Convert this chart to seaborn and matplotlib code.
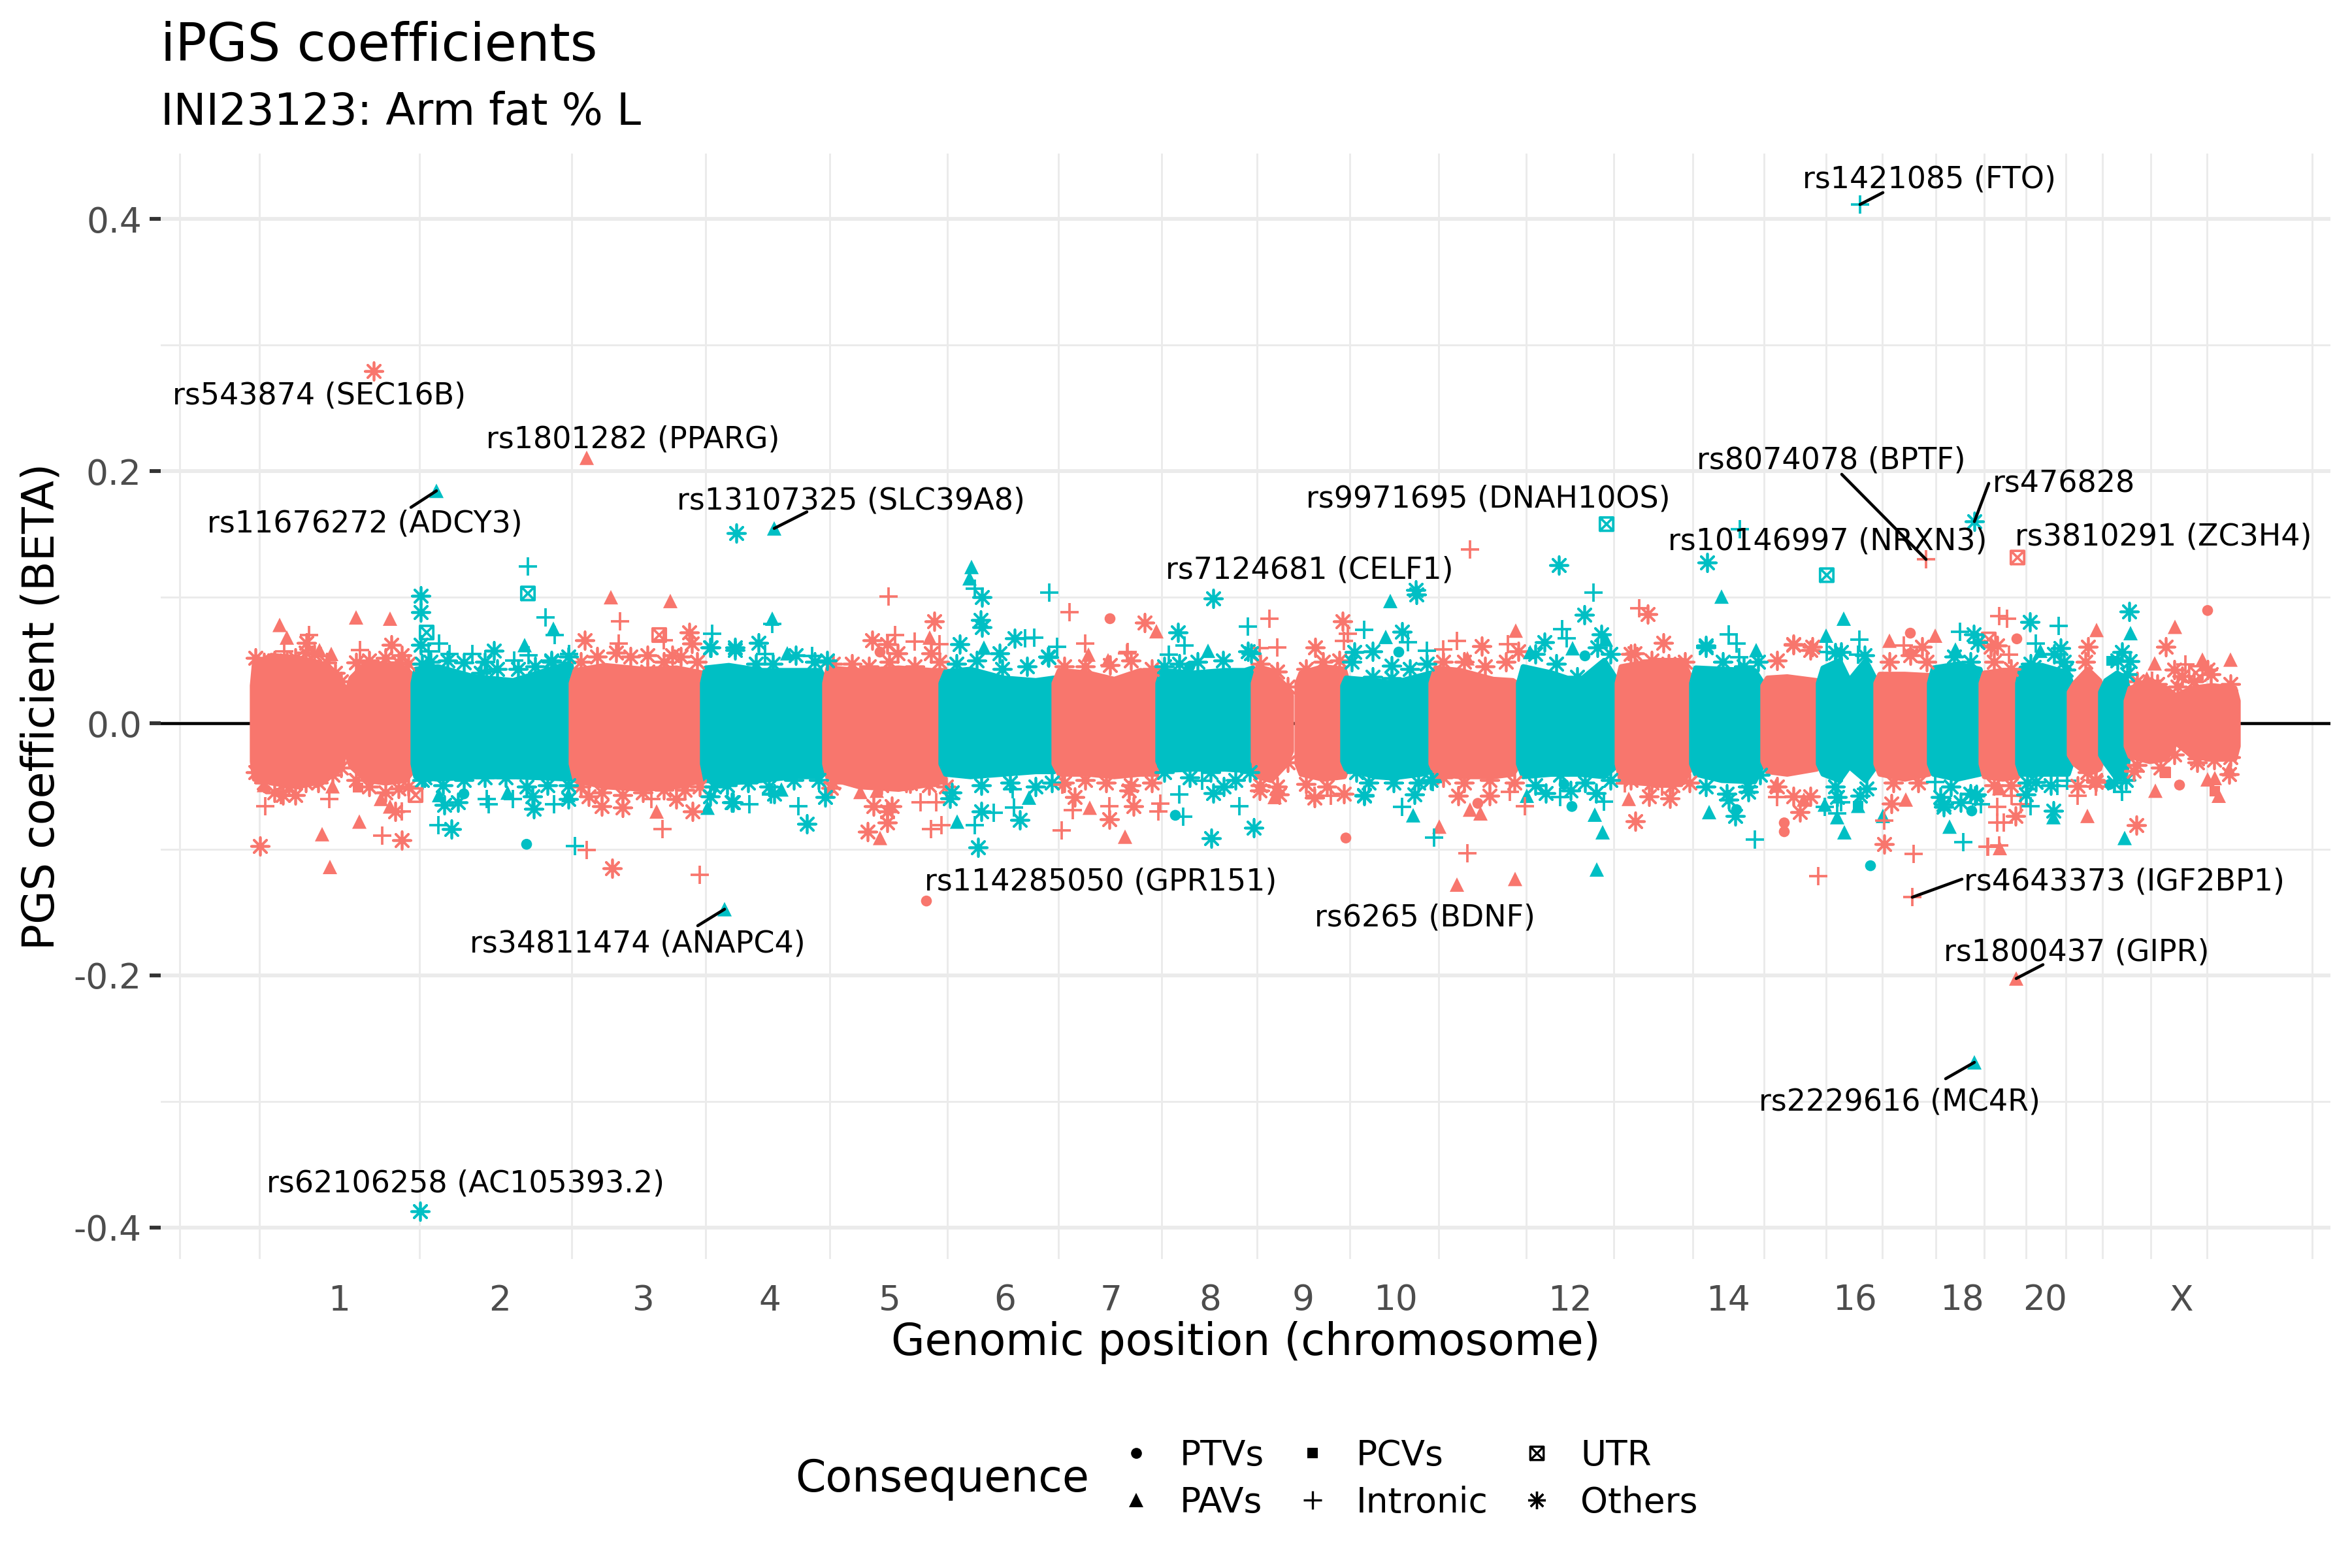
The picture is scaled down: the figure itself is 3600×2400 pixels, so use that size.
import matplotlib
matplotlib.use("Agg")
import matplotlib.pyplot as plt
import pandas as pd
import seaborn as sns
from matplotlib.lines import Line2D
from matplotlib.markers import MarkerStyle
from matplotlib.path import Path

# x is cumulative genomic position in Mb, y is the PGS coefficient
tick_pos = [134, 380, 600, 793, 977, 1153, 1316, 1467, 1610, 1751, 2018, 2260, 2454, 2618, 2745, 2954]
tick_names = ["1", "2", "3", "4", "5", "6", "7", "8", "9", "10", "12", "14", "16", "18", "20", "X"]
grid_pos = [-110, 12, 257, 490, 695, 885, 1065, 1235, 1393, 1539, 1681, 1817, 1951, 2085, 2206,
            2315, 2410, 2496, 2578, 2652, 2716, 2777, 2833, 2907, 2993, 3154]

# the dense mass of each chromosome arm, as envelope
seg_group = ["odd", "odd", "even", "odd", "even", "odd", "even", "odd", "even", "odd", "odd", "even", "odd",
             "even", "odd", "even", "odd", "even", "odd", "even", "odd", "even", "odd", "even", "odd"]
seg_x = [[1, 4, 30, 70, 105, 128, 138, 142], [146, 152, 175, 205, 235, 250],
         [247, 251, 285, 340, 400, 450, 488, 492], [489, 495, 540, 600, 650, 690, 694],
         [690, 695, 730, 780, 830, 870, 880], [877, 882, 930, 990, 1040, 1058, 1062],
         [1055, 1062, 1100, 1150, 1200, 1228, 1234], [1228, 1236, 1280, 1320, 1360, 1385, 1390],
         [1387, 1393, 1440, 1490, 1520, 1532, 1536], [1533, 1540, 1560, 1582, 1591],
         [1600, 1606, 1640, 1672, 1678], [1670, 1675, 1720, 1745, 1790, 1805, 1810],
         [1805, 1812, 1850, 1900, 1930, 1942], [1939, 1946, 1990, 2030, 2070, 2092],
         [2090, 2096, 2150, 2190, 2206], [2204, 2210, 2250, 2300, 2315], [2313, 2320, 2350, 2395, 2402],
         [2398, 2405, 2430, 2445, 2470, 2488], [2486, 2492, 2530, 2567, 2572], [2568, 2574, 2610, 2645, 2650],
         [2647, 2652, 2680, 2703, 2708], [2703, 2708, 2740, 2780, 2785], [2782, 2790, 2810, 2828, 2834],
         [2830, 2838, 2855, 2868, 2873], [2869, 2875, 2905, 2930, 2945, 2970, 3000, 3035, 3040]]
seg_hi = [[.03, .047, .054, .052, .048, .04, .034, .02], [.025, .036, .048, .047, .044, .036],
          [.032, .043, .045, .037, .034, .042, .048, .032], [.032, .042, .046, .043, .044, .04, .032],
          [.032, .044, .046, .042, .042, .042, .032], [.032, .044, .042, .044, .042, .042, .032],
          [.032, .041, .043, .036, .034, .036, .032], [.032, .042, .04, .035, .042, .04, .032],
          [.032, .042, .04, .042, .042, .044, .032], [.032, .045, .042, .03, .022],
          [.032, .04, .045, .043, .032], [.03, .036, .034, .032, .038, .04, .03],
          [.032, .044, .042, .035, .034, .03], [.032, .045, .04, .033, .05, .032],
          [.032, .045, .05, .05, .032], [.032, .044, .043, .042, .03], [.03, .036, .037, .034, .03],
          [.032, .044, .05, .034, .05, .032], [.032, .039, .039, .038, .03], [.032, .044, .047, .043, .032],
          [.032, .04, .042, .042, .032], [.032, .044, .046, .04, .032], [.025, .032, .043, .034, .025],
          [.025, .034, .04, .036, .025], [.018, .028, .032, .028, .022, .028, .03, .028, .018]]
seg_lo = [[-.03, -.044, -.047, -.05, -.046, -.04, -.034, -.02], [-.025, -.034, -.045, -.047, -.045, -.035],
          [-.032, -.042, -.044, -.042, -.042, -.043, -.044, -.032], [-.032, -.045, -.05, -.052, -.05, -.045, -.032],
          [-.032, -.045, -.047, -.045, -.042, -.042, -.032], [-.032, -.043, -.05, -.052, -.048, -.046, -.032],
          [-.032, -.04, -.042, -.04, -.038, -.038, -.032], [-.032, -.04, -.04, -.042, -.04, -.04, -.032],
          [-.03, -.037, -.036, -.036, -.037, -.037, -.03], [-.032, -.042, -.045, -.033, -.022],
          [-.032, -.04, -.044, -.042, -.032], [-.03, -.036, -.042, -.043, -.04, -.038, -.03],
          [-.032, -.04, -.042, -.042, -.04, -.03], [-.032, -.042, -.04, -.04, -.042, -.032],
          [-.032, -.046, -.048, -.047, -.032], [-.032, -.04, -.045, -.046, -.03], [-.03, -.038, -.04, -.036, -.03],
          [-.032, -.04, -.045, -.034, -.045, -.032], [-.032, -.04, -.044, -.04, -.03], [-.032, -.04, -.044, -.04, -.032],
          [-.032, -.042, -.044, -.042, -.032], [-.032, -.04, -.04, -.04, -.032], [-.025, -.032, -.04, -.036, -.025],
          [-.025, -.032, -.044, -.04, -.025], [-.018, -.026, -.03, -.028, -.015, -.026, -.028, -.028, -.018]]

# variants piling up along the outer edge of the mass
rim_odd = [(6, .052), (19, .048), (35, .05), (54, .049), (67, .052), (83, .056), (96, .055), (115, .048), (128, .04),
           (137, .033), (6, -.039), (19, -.047), (35, -.055), (48, -.057), (67, -.057), (83, -.047), (102, -.047),
           (124, -.041), (137, -.035), (160, .048), (180, .05), (205, .052), (225, .048), (240, .047), (160, -.045),
           (180, -.05), (205, -.055), (225, -.052), (240, -.05),
           (504, .049), (529, .053), (580, .053), (606, .041), (631, .049), (657, .053), (682, .049), (504, -.05),
           (536, -.055), (568, -.057), (599, -.055), (631, -.053), (663, -.053), (686, -.05),
           (890, .047), (919, .047), (945, .045), (976, .049), (1015, .045), (1053, .049), (890, -.047), (932, -.045),
           (964, -.049), (1002, -.047), (1037, -.049), (1063, -.05),
           (1244, .045), (1276, .045), (1314, .046), (1346, .05), (1378, .043), (1244, -.047), (1276, -.045),
           (1308, -.047), (1346, -.049), (1378, -.047),
           (1544, .047), (1570, .041), (1586, .029), (1544, -.049), (1570, -.05), (1586, -.031), (1614, .043),
           (1640, .049), (1665, .05), (1614, -.048), (1646, -.05), (1672, -.056),
           (1824, .049), (1856, .049), (1888, .045), (1920, .049), (1939, .057), (1824, -.043), (1856, -.047),
           (1895, -.045), (1933, -.047),
           (2111, .055), (2143, .05), (2169, .047), (2194, .049), (2111, -.045), (2143, -.047), (2175, -.049), (2201, -.047),
           (2335, .05), (2360, .062), (2386, .058), (2335, -.05), (2360, -.058), (2386, -.058),
           (2507, .049), (2539, .054), (2564, .049), (2513, -.047), (2551, -.047),
           (2667, .049), (2693, .043), (2667, -.049), (2693, -.049),
           (2807, .049), (2810, -.039), (2822, -.045),
           (2886, .033), (2917, .031), (2948, .029), (2973, .033), (2999, .039), (3029, .031), (2886, -.033),
           (2922, -.035), (2978, -.031), (3004, -.029), (3029, -.027)]
rim_even = [(261, .047), (274, .049), (300, .05), (325, .048), (351, .04), (376, .043), (408, .043), (434, .045),
            (459, .049), (485, .053), (261, -.045), (293, -.049), (325, -.045), (357, -.043), (389, -.043), (421, -.05),
            (453, -.049), (485, -.049),
            (702, .06), (740, .058), (772, .047), (798, .047), (833, .054), (862, .049), (881, .05), (708, -.05),
            (728, -.049), (760, -.047), (792, -.05), (830, -.045), (868, -.045),
            (1079, .047), (1110, .05), (1149, .043), (1187, .045), (1219, .053), (1072, -.055), (1117, -.049),
            (1161, -.047), (1200, -.05), (1225, -.047),
            (1397, .045), (1420, .047), (1448, .049), (1487, .05), (1525, .057), (1397, -.039), (1436, -.043),
            (1468, -.039), (1506, -.045), (1528, -.039),
            (1684, .049), (1716, .037), (1745, .036), (1773, .043), (1799, .047), (1691, -.039), (1710, -.047),
            (1748, -.047), (1786, -.047), (1805, -.045),
            (1965, .055), (1997, .047), (2029, .037), (2060, .06), (2080, .055), (1965, -.049), (2003, -.041),
            (2041, -.047), (2080, -.045),
            (2226, .06), (2252, .049), (2284, .045), (2306, .049), (2226, -.05), (2258, -.056), (2290, -.05), (2309, -.041),
            (2424, .056), (2469, .054), (2424, -.05), (2472, -.052),
            (2606, .053), (2631, .049), (2601, -.05), (2631, -.056),
            (2723, .047), (2759, .055), (2774, .049), (2718, -.047), (2754, -.049),
            (2856, .05), (2871, .039), (2851, -.047), (2869, -.045)]

# single variants standing clear of the mass, (position, beta)
ptv_odd = [(962, .0565), (1314, .083), (1675, -.091), (1033, -.141), (1877, -.0635), (2539, .0715), (2346, -.079),
           (2346, -.086), (2539, .0555), (2702, .067), (2994, .0895), (2951, -.049)]
ptv_even = [(421, -.096), (325, -.056), (1414, -.073), (1436, .045), (1756, .0565), (2041, .0535), (2021, -.066),
            (2273, -.0685), (2478, -.113), (2633, -.0695), (2009, -.0485), (2844, -.0485)]
pav_odd = [(43, .078), (54, .068), (160, .084), (212, .083), (104, .058), (122, .055), (165, .043), (550, .1),
           (641, .097), (620, -.07), (198, -.06), (212, -.066), (165, -.078), (108, -.088), (120, -.114),
           (124, -.05), (19, -.049), (513, .2106), (1038, .068), (1385, .073), (1281, .0545), (1311, .05),
           (1283, -.067), (1337, -.09), (962, -.091), (932, -.0545), (957, -.0535), (1566, -.0585), (1935, .0735),
           (1861, .0515), (2577, .0695), (2507, .0655), (2108, -.06), (1865, -.0685), (1881, -.0715), (1818, -.082),
           (1845, -.128), (1934, -.1235), (2376, -.0605), (2532, -.0605), (2333, -.0495), (2824, .074), (2944, .0765),
           (2913, .0475), (2986, .0505), (3029, .0505), (2901, .0355), (2810, -.0735), (2914, -.0535), (2994, -.0445),
           (3005, -.0435), (3011, -.0575), (3027, -.0365), (2676, -.099), (2675, -.0515), (2701, -.2025)]
pav_even = [(462, .075), (418, .062), (797, .083), (698, -.067), (287, -.057), (392, -.055), (485, -.057), (283, .1844),
            (800, .1546), (724, -.1475), (1102, .124), (1099, .115), (1121, .06), (1080, -.078), (1190, -.059),
            (1464, .0575), (820, .0555), (811, -.0525), (1743, .097), (1736, .0685), (2250, .1005), (2437, .083),
            (2410, .0695), (2303, .058), (2022, .0595), (2073, .0665), (1957, .0565), (1952, -.0575), (1778, -.073),
            (2056, -.0725), (2068, -.0865), (2059, -.116), (2231, -.0705), (2408, -.0645), (2438, -.0865),
            (2497, -.0735), (2599, -.082), (2427, -.0745), (2459, -.0655), (2876, .0715), (2738, .0575), (2608, .0585),
            (2867, -.091), (2758, -.0745), (2637, -.269)]
pcv_odd = [(163, -.051), (3005, -.054), (2930, -.0395)]
pcv_even = [(2459, -.0655), (2847, .0495)]
intronic_odd = [(88, .07), (50, .057), (166, .058), (21, -.066), (119, -.06), (200, -.089), (230, -.07), (564, .081),
                (562, .063), (629, -.084), (513, -.1005), (686, -.12), (612, -.06), (230, .047), (45, -.057), (631, .066),
                (975, .1005), (1252, .088), (985, .07), (1015, .065), (1053, .0625), (1276, .063), (1341, .0565),
                (1558, .083), (1570, .06), (1543, .0595), (1672, .0655), (1678, .071), (1024, -.0625), (1048, -.0625),
                (1040, -.084), (1056, -.081), (1240, -.085), (1257, -.069), (1313, -.066), (1388, -.07), (1391, -.0635),
                (1340, .0555), (1241, -.0485), (1627, -.0575), (1652, -.0575), (1865, .138), (2124, .091), (1845, .0655),
                (1824, .0585), (1923, .0625), (2563, .13), (1861, -.103), (1949, -.066), (2499, -.077), (2544, -.1037),
                (2398, -.1215), (2542, -.138), (2529, .0615), (2335, -.0585), (2159, -.0505), (2102, -.0475),
                (1926, -.0545), (2657, -.098), (2675, .085), (2687, .083), (2690, .0545), (2960, .0465), (2672, -.0665),
                (2672, -.079), (2682, -.079), (2658, -.098), (2675, -.097), (2708, -.0645), (2694, -.0575), (2795, -.0575),
                (2823, -.0505), (2909, .0335)]
intronic_even = [(423, .1245), (450, .084), (464, .07), (286, -.081), (360, -.06), (363, -.064), (400, -.06), (463, -.064),
                 (495, -.0975), (705, .071), (762, -.064), (797, .079), (786, .055), (287, .063), (271, .057), (338, .055),
                 (303, .055), (486, .055), (424, .054), (402, .05), (360, .041), (2462, .4116), (2278, .154), (1221, .1035),
                 (1107, .107), (1525, .0765), (1428, .0615), (1404, .0545), (1233, .0605), (1184, .0675), (1198, .068),
                 (858, .0535), (837, -.066), (1107, -.081), (1136, -.071), (1167, -.067), (1420, -.0565), (1426, -.074),
                 (1512, -.066), (1703, .074), (795, -.0565), (1165, -.0525), (1455, -.0455), (2054, .1035), (1770, .0645),
                 (1799, .0575), (2006, .0745), (2013, .0675), (2261, .0705), (2273, .0635), (2277, .0525), (2461, .0665),
                 (2459, .0545), (2411, .0565), (2615, .0725), (1761, -.0665), (1810, -.0905), (2070, -.062), (2301, -.092),
                 (2003, -.0585), (2433, -.0625), (2408, -.0665), (2427, -.0715), (2620, -.0945), (2647, -.0645),
                 (1808, -.0465), (2577, -.0465), (2766, .0775), (2731, .0635), (2723, -.066), (2764, -.0495),
                 (2779, -.0455), (2863, -.0545)]
utr_odd = [(624, .07), (251, -.057), (2703, .1315), (2659, .0665), (2976, .04)]
utr_even = [(423, .103), (268, .072), (2074, .158), (2411, .1175)]
other_odd = [(13, -.0975), (230, -.0926), (84, .064), (214, .062), (230, .054), (510, .066), (670, .072), (674, .063),
             (644, .054), (606, .054), (558, .056), (220, -.07), (552, -.115), (675, -.07), (536, -.066), (568, -.067),
             (516, -.058), (650, -.06), (99, -.043), (57, -.05), (187, .2796), (1045, .081), (950, .066), (973, .0625),
             (989, .0555), (1040, .0555), (1367, .08), (1670, .081), (1628, .06), (952, -.066), (980, -.066), (973, -.07),
             (973, -.079), (943, -.086), (1260, -.0585), (1313, -.076), (1350, -.066), (1343, -.0535), (1543, -.0535),
             (1573, -.0565), (887, -.0515), (1627, -.059), (1008, -.0475), (2137, .0865), (2161, .064), (1883, .061),
             (2117, .0555), (2139, -.058), (2171, -.0595), (2118, -.0775), (2360, .0625), (2389, .0605), (2557, .0605),
             (2370, -.0705), (2499, -.096), (2510, -.0635), (1895, -.0575), (1847, -.0575), (2811, .0605), (2930, .0605),
             (2700, -.0735), (2885, -.081), (2795, -.0495), (2943, .0425), (2955, .0375), (2994, .0425), (2662, .0605),
             (2672, .0615), (2978, -.028), (2943, -.025), (3027, -.0405), (2823, -.0465), (2881, -.038)]
other_even = [(259, .101), (259, .088), (259, .062), (306, -.084), (295, -.065), (316, -.0625), (432, -.068), (430, -.058),
              (485, -.06), (737, -.0625), (702, -.058), (776, .064), (703, .06), (740, .06), (371, .0575), (357, .049),
              (459, .05), (800, -.056), (265, -.043), (742, .151), (258, -.387), (1118, .1), (1116, .082), (1118, .076),
              (1084, .0625), (1168, .0675), (1145, .0555), (1220, .0525), (1472, .099), (1418, .072), (1530, .0555),
              (1688, .0565), (735, -.0625), (878, -.0585), (850, -.08), (1069, -.0595), (1117, -.07), (1176, -.0765),
              (1112, -.0985), (1469, -.091), (1534, -.083), (1472, -.0555), (1488, -.0505), (1703, -.0575), (1782, .106),
              (1783, .102), (2001, .1255), (2228, .1275), (2040, .086), (2066, .0705), (1761, .0725), (1716, .057),
              (1745, .0455), (1979, .0645), (2226, .0615), (2433, .0565), (2636, .0705), (2637, .16), (1703, -.057),
              (1780, -.0565), (1981, -.0555), (2019, -.0535), (2058, -.0555), (2261, -.0605), (2291, -.0545), (2271, -.0735),
              (2427, -.0585), (2462, -.0575), (2590, -.0645), (2638, -.0575), (2874, .0885), (2722, .0805), (2642, .0645),
              (2769, .0595), (2777, .0425), (2863, .0565), (2875, .0495), (2728, .0445), (2716, -.0565), (2731, -.0465),
              (2758, -.0695), (2616, -.0625), (2590, -.0665), (2640, -.0565), (2585, -.0585)]

labels = ["rs1421085 (FTO)", "rs543874 (SEC16B)", "rs1801282 (PPARG)", "rs11676272 (ADCY3)", "rs13107325 (SLC39A8)",
          "rs9971695 (DNAH10OS)", "rs8074078 (BPTF)", "rs476828", "rs10146997 (NRXN3)", "rs3810291 (ZC3H4)",
          "rs7124681 (CELF1)", "rs114285050 (GPR151)", "rs34811474 (ANAPC4)", "rs6265 (BDNF)",
          "rs4643373 (IGF2BP1)", "rs1800437 (GIPR)", "rs2229616 (MC4R)", "rs62106258 (AC105393.2)"]
label_x = [2568, 104, 584, 173, 917, 1893, 2418, 2774, 2412, 2926, 1619, 1300, 591, 1796, 2866, 2793, 2522, 327]
label_y = [.4315, .2595, .2248, .158, .1765, .1777, .2082, .1895, .1443, .148, .1213, -.126, -.175, -.1545,
           -.126, -.182, -.3008, -.3655]
# repel segments: label end, then variant
seg_from = [(2497, .421), (244, .1713), (850, .1677), (2434, .1975), (2659, .1903), (683, -.1606), (2618, -.1237),
            (2742, -.1915), (2593, -.282)]
seg_to = [(2462, .4116), (283, .1844), (800, .1546), (2563, .13), (2637, .16), (724, -.1475), (2542, -.138),
          (2701, -.2025), (2637, -.269)]

palette = {"odd": "#F8766D", "even": "#00BFC4"}

utr_path = Path([(-1, -1), (1, -1), (1, 1), (-1, 1), (-1, -1), (1, 1), (-1, 1), (1, -1)],
                [Path.MOVETO, Path.LINETO, Path.LINETO, Path.LINETO, Path.LINETO, Path.LINETO, Path.MOVETO, Path.LINETO])
utr_marker = MarkerStyle(utr_path, fillstyle="none")
star_marker = (8, 2, 0)

sns.set_theme(style="white")
plt.rcParams["font.family"] = ["DejaVu Sans"]
plt.rcParams["axes.unicode_minus"] = False

fig = plt.figure(figsize=(12, 8), dpi=300)
ax = fig.add_axes([246 / 3600, 1 - 1927 / 2400, 3321 / 3600, 1692 / 2400])

ax.axhline(0, color="black", linewidth=1.1, zorder=1)

# dense mass first, chromosome by chromosome
for group, xs, hi, lo in zip(seg_group, seg_x, seg_hi, seg_lo):
    ax.fill_between(xs, lo, hi, color=palette[group], linewidth=2, zorder=2)

layers = [(rim_odd, "odd", star_marker, 42), (rim_even, "even", star_marker, 42),
          (ptv_odd, "odd", "o", 16), (ptv_even, "even", "o", 16), (pcv_odd, "odd", "s", 14), (pcv_even, "even", "s", 14),
          (pav_odd, "odd", "^", 28), (pav_even, "even", "^", 28), (intronic_odd, "odd", "+", 42),
          (intronic_even, "even", "+", 42), (utr_odd, "odd", utr_marker, 24), (utr_even, "even", utr_marker, 24),
          (other_odd, "odd", star_marker, 42), (other_even, "even", star_marker, 42)]
for points, group, marker, size in layers:
    df = pd.DataFrame(points, columns=["pos", "beta"])
    if marker in ("o", "s", "^"):
        sns.scatterplot(data=df, x="pos", y="beta", color=palette[group], marker=marker, s=size,
                        edgecolor="none", linewidth=0, ax=ax, zorder=3, legend=False)
    else:
        sns.scatterplot(data=df, x="pos", y="beta", color=palette[group], marker=marker, s=size,
                        linewidth=0.9, ax=ax, zorder=3, legend=False)

for start, end in zip(seg_from, seg_to):
    ax.plot([start[0], end[0]], [start[1], end[1]], color="black", linewidth=1.1, zorder=4)
for text, lx, ly in zip(labels, label_x, label_y):
    ax.text(lx, ly, text, fontsize=11.05, ha="center", va="center", color="black", zorder=5)

ax.set_xlim(-139, 3182)
ax.set_ylim(-0.425, 0.452)
ax.set_xticks(tick_pos)
ax.set_xticklabels(tick_names)
ax.set_xticks(grid_pos, minor=True)
ax.set_yticks([-0.4, -0.2, 0, 0.2, 0.4])
ax.set_yticklabels(["-0.4", "-0.2", "0.0", "0.2", "0.4"])
ax.set_yticks([-0.3, -0.1, 0.1, 0.3], minor=True)

ax.set_axisbelow(True)
ax.grid(False)
ax.grid(True, which="major", axis="y", color="#EBEBEB", linewidth=1.4)
ax.grid(True, which="minor", axis="y", color="#EBEBEB", linewidth=0.7)
ax.grid(True, which="minor", axis="x", color="#EBEBEB", linewidth=0.7)
ax.tick_params(axis="x", which="both", length=0, pad=9, labelsize=12.8, labelcolor="#4D4D4D")
ax.tick_params(axis="y", which="major", left=True, length=4, width=1.4, color="#333333", pad=3,
               labelsize=12.8, labelcolor="#4D4D4D")
ax.tick_params(axis="y", which="minor", length=0)
sns.despine(ax=ax, left=True, bottom=True)

ax.set_xlabel("Genomic position (chromosome)", fontsize=16, va="center", color="black")
ax.xaxis.set_label_coords(0.5, -128 / 1692)
ax.set_ylabel("PGS coefficient (BETA)", fontsize=16, va="center", color="black")
ax.yaxis.set_label_coords(-182 / 3321, 0.5)

fig.text(246 / 3600, 1 - 71 / 2400, "iPGS coefficients", fontsize=19.2, va="center", ha="left", color="black")
fig.text(246 / 3600, 1 - 172 / 2400, "INI23123: Arm fat % L", fontsize=16, va="center", ha="left", color="black")

fig.text(1217 / 3600, 1 - 2264 / 2400, "Consequence", fontsize=16, va="center", ha="left", color="black")
handles = [Line2D([], [], linestyle="none", color="black", marker=m, markersize=ms, markeredgewidth=mew,
                  markerfacecolor=mfc, label=lab)
           for m, ms, mew, mfc, lab in [("o", 4, 0, "black", "PTVs"), ("^", 5.3, 0, "black", "PAVs"),
                                        ("s", 3.8, 0, "black", "PCVs"), ("+", 6.5, 0.8, "black", "Intronic"),
                                        (utr_marker, 4.9, 0.8, "none", "UTR"), (star_marker, 6.5, 0.8, "black", "Others")]]
fig.legend(handles=handles, ncol=3, loc="center", bbox_to_anchor=(2150 / 3600, 1 - 2264 / 2400), frameon=False,
           fontsize=12.8, handletextpad=0.55, columnspacing=0.7, labelspacing=0.38, handlelength=1.4, labelcolor="black")

fig.savefig("out.png", dpi=300)
